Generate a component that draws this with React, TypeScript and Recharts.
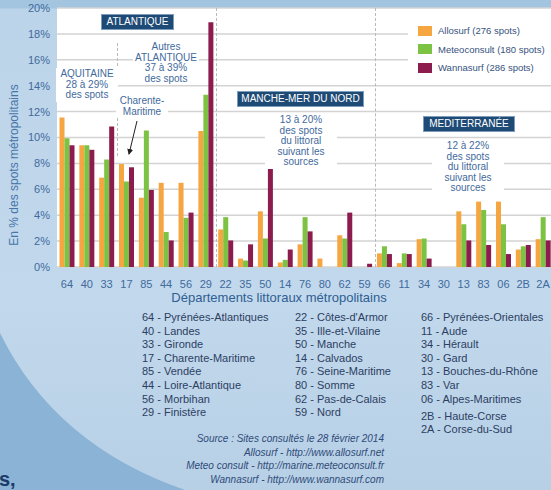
import React from "react";
import { Bar, BarChart, CartesianGrid, XAxis, YAxis } from "recharts";

const departements = ["64", "40", "33", "17", "85", "44", "56", "29", "22", "35", "50", "14", "76", "80", "62", "59", "66", "11", "34", "30", "13", "83", "06", "2B", "2A"];
const allosurf = [11.55, 9.4, 6.9, 7.95, 5.35, 6.5, 6.5, 10.5, 2.9, 0.65, 4.3, 0.35, 1.75, 0.65, 2.45, 0, 1.05, 0.3, 2.15, 0, 4.3, 5.05, 5.05, 1.35, 2.15];
const meteoconsult = [9.95, 9.4, 8.3, 6.6, 10.55, 2.7, 3.8, 13.3, 3.85, 0.5, 2.2, 0.55, 3.85, 0, 2.2, 0, 1.6, 1.05, 2.2, 0, 3.3, 4.4, 3.3, 1.6, 3.85];
const wannasurf = [9.4, 9.05, 10.85, 7.7, 5.95, 2.05, 4.2, 18.9, 2.05, 1.75, 7.7, 1.35, 2.75, 0, 4.2, 0.25, 1.0, 1.0, 0.65, 0, 2.05, 1.7, 1.0, 1.7, 2.05];
const yTicks = [0, 2, 4, 6, 8, 10, 12, 14, 16, 18, 20];

const series = [
  { key: "allosurf", name: "Allosurf (276 spots)", color: "#f5a640" },
  { key: "meteoconsult", name: "Meteoconsult (180 spots)", color: "#7cc243" },
  { key: "wannasurf", name: "Wannasurf (286 spots)", color: "#8c1b4e" },
];

const listCol1 = ["64 - Pyrénées-Atlantiques", "40 - Landes", "33 - Gironde", "17 - Charente-Maritime", "85 - Vendée", "44 - Loire-Atlantique", "56 - Morbihan", "29 - Finistère"];
const listCol2 = ["22 - Côtes-d'Armor", "35 - Ille-et-Vilaine", "50 - Manche", "14 - Calvados", "76 - Seine-Maritime", "80 - Somme", "62 - Pas-de-Calais", "59 - Nord"];
const listCol3 = ["66 - Pyrénées-Orientales", "11 - Aude", "34 - Hérault", "30 - Gard", "13 - Bouches-du-Rhône", "83 - Var", "06 - Alpes-Maritimes"];
const listCorse = ["2B - Haute-Corse", "2A - Corse-du-Sud"];
const sources = [
  "Source : Sites consultés le 28 février 2014",
  "Allosurf - http://www.allosurf.net",
  "Meteo consult - http://marine.meteoconsult.fr",
  "Wannasurf - http://www.wannasurf.com",
];

const data = departements.map((d, i) => ({
  dep: d,
  allosurf: allosurf[i],
  meteoconsult: meteoconsult[i],
  wannasurf: wannasurf[i],
}));

const FONT = "'Liberation Sans', Arial, sans-serif";
const blueText = "#3f6a9c";
const darkText = "#2c3e62";

function NavyBox({ left, top, width, height, label }: { left: number; top: number; width: number; height: number; label: string }) {
  return (
    <div
      style={{
        position: "absolute",
        left,
        top,
        width,
        height,
        background: "#1e4a76",
        border: "1px solid #7d9cbc",
        boxSizing: "border-box",
        color: "#fff",
        fontSize: 10,
        lineHeight: `${height - 2}px`,
        textAlign: "center",
      }}
    >
      {label}
    </div>
  );
}

function Note({ cx, top, lines, pad = 4 }: { cx: number; top: number; lines: string[]; pad?: number }) {
  return (
    <div
      style={{
        position: "absolute",
        left: cx - 50,
        top,
        width: 100,
        textAlign: "center",
        fontSize: 10,
        lineHeight: "10.6px",
        color: blueText,
      }}
    >
      <span style={{ background: "#fff", padding: `1px ${pad}px`, display: "inline-block" }}>
        {lines.map((l) => (
          <div key={l}>{l}</div>
        ))}
      </span>
    </div>
  );
}

function DashedV({ x, top, bottom }: { x: number; top: number; bottom: number }) {
  return (
    <div
      style={{
        position: "absolute",
        left: x,
        top,
        height: bottom - top,
        width: 0,
        borderLeft: "1px dashed #b9b9b9",
      }}
    />
  );
}

export default function App() {
  return (
    <div
      style={{
        position: "absolute",
        left: 0,
        top: 0,
        width: 551,
        height: 490,
        overflow: "hidden",
        fontFamily: FONT,
        background: "linear-gradient(180deg, #a3c5e0 0px, #a3c5e0 8px, #bcd4e9 9px, #c2d8ec 300px, #b7d0e6 490px)",
      }}
    >
      <svg width={551} height={490} style={{ position: "absolute", left: 0, top: 0 }}>
        <path d="M0,333 Q55,445 185,490 L0,490 Z" fill="#8ab3d6" />
      </svg>

      <div style={{ position: "absolute", left: 0, top: 0 }}>
        <BarChart
          width={553}
          height={300}
          data={data}
          margin={{ top: 8, right: 0, left: 0, bottom: 0 }}
          barCategoryGap={2.5}
          barGap={0}
        >
          <CartesianGrid vertical={false} stroke="#d3d3d3" strokeWidth={1.5} fill="#ffffff" />
          <XAxis
            dataKey="dep"
            height={33}
            interval={0}
            tickLine={false}
            axisLine={false}
            tickMargin={7}
            tick={{ fill: blueText, fontSize: 11 }}
          />
          <YAxis
            width={57}
            domain={[0, 20]}
            ticks={yTicks}
            tickFormatter={(v) => `${v}%`}
            axisLine={false}
            tickLine={false}
            tickSize={0}
            tickMargin={7}
            tick={{ fill: blueText, fontSize: 11 }}
          />
          {series.map((s) => (
            <Bar key={s.key} dataKey={s.key} name={s.name} fill={s.color} isAnimationActive={false} />
          ))}
        </BarChart>
      </div>

      {/* y axis title */}
      <div
        style={{
          position: "absolute",
          left: 14,
          top: 165,
          transform: "translate(-50%, -50%) rotate(-90deg)",
          whiteSpace: "nowrap",
          fontSize: 12,
          color: "#4675a8",
        }}
      >
        En % des spots métropolitains
      </div>

      {/* region separators */}
      <DashedV x={117} top={43} bottom={156} />
      <DashedV x={216} top={8} bottom={267} />
      <DashedV x={375} top={8} bottom={267} />

      <NavyBox left={101} top={14} width={73} height={16} label="ATLANTIQUE" />
      <Note cx={87} top={68} lines={["AQUITAINE", "28 à 29%", "des spots"]} />
      <Note cx={166} top={41} lines={["Autres", "ATLANTIQUE", "37 à 39%", "des spots"]} pad={2} />
      <Note cx={142} top={95} lines={["Charente-", "Maritime"]} />
      <svg width={551} height={300} style={{ position: "absolute", left: 0, top: 0, pointerEvents: "none" }}>
        <defs>
          <marker id="arr" markerWidth="6" markerHeight="6" refX="5" refY="3" orient="auto">
            <path d="M0,0 L6,3 L0,6 Z" fill="#222" />
          </marker>
        </defs>
        <line x1={137} y1={121} x2={129} y2={154} stroke="#222" strokeWidth={1} markerEnd="url(#arr)" />
      </svg>

      <NavyBox left={237} top={91} width={127} height={16} label="MANCHE-MER DU NORD" />
      <Note cx={301} top={114} lines={["13 à 20%", "des spots", "du littoral", "suivant les", "sources"]} pad={12} />

      <NavyBox left={423} top={116} width={92} height={16} label="MEDITERRANÉE" />
      <Note cx={468} top={140} lines={["12 à 22%", "des spots", "du littoral", "suivant les", "sources"]} pad={12} />

      {/* legend */}
      <div style={{ position: "absolute", left: 408, top: 21, width: 143, height: 56, background: "#fff" }}>
        {series.map((s, i) => (
          <div key={s.key} style={{ position: "absolute", left: 10, top: 4 + i * 18.5, display: "flex", alignItems: "center", whiteSpace: "nowrap" }}>
            <span style={{ width: 14, height: 10, background: s.color, display: "inline-block", flex: "none" }} />
            <span style={{ marginLeft: 6, fontSize: 9.5, color: "#36527e" }}>{s.name}</span>
          </div>
        ))}
      </div>

      {/* x axis title */}
      <div style={{ position: "absolute", left: 279, top: 297, transform: "translate(-50%, -50%)", whiteSpace: "nowrap", fontSize: 13, color: "#2f5e93" }}>
        Départements littoraux métropolitains
      </div>

      {/* department lists */}
      {[listCol1, listCol2, listCol3].map((col, c) => (
        <div key={c} style={{ position: "absolute", left: [142, 295, 421][c], top: 311, fontSize: 11, lineHeight: "13.6px", color: darkText }}>
          {col.map((t) => (
            <div key={t} style={{ whiteSpace: "nowrap" }}>{t}</div>
          ))}
        </div>
      ))}
      <div style={{ position: "absolute", left: 421, top: 410, fontSize: 11, lineHeight: "13.4px", color: darkText }}>
        {listCorse.map((t) => (
          <div key={t} style={{ whiteSpace: "nowrap" }}>{t}</div>
        ))}
      </div>

      {/* sources */}
      <div style={{ position: "absolute", right: 551 - 384, top: 432, textAlign: "right", fontSize: 10, lineHeight: "13.7px", fontStyle: "italic", color: "#2f4b78" }}>
        {sources.map((t) => (
          <div key={t} style={{ whiteSpace: "nowrap" }}>{t}</div>
        ))}
      </div>

      <div style={{ position: "absolute", left: -1, top: 468, fontSize: 20, fontWeight: "bold", color: "#1c3a66" }}>s,</div>
    </div>
  );
}
